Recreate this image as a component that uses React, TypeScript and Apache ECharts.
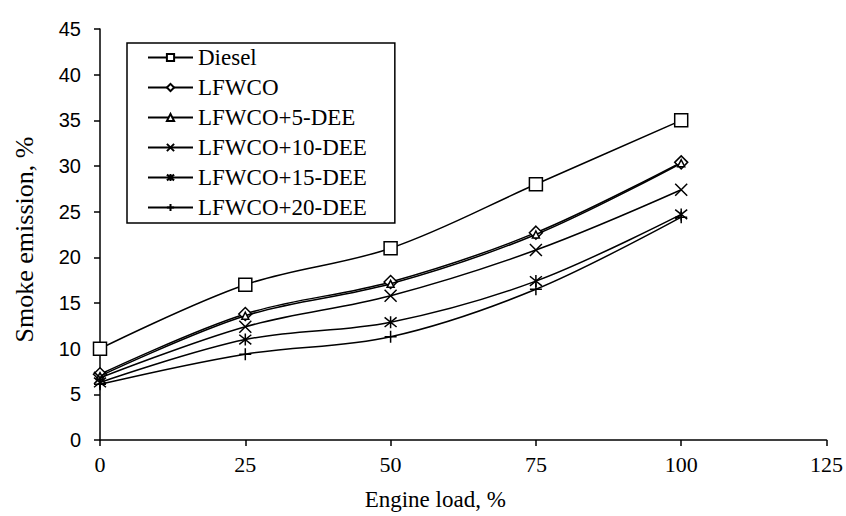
import React, { useEffect, useRef } from "react";
import * as echarts from "echarts";

const loads = [0, 25, 50, 75, 100];
const seriesNames = ["Diesel", "LFWCO", "LFWCO+5-DEE", "LFWCO+10-DEE", "LFWCO+15-DEE", "LFWCO+20-DEE"];
const diesel = [10.0, 17.0, 21.0, 28.0, 35.0];
const lfwco = [7.2, 13.8, 17.3, 22.7, 30.4];
const lfwco5 = [7.0, 13.6, 17.1, 22.5, 30.3];
const lfwco10 = [6.8, 12.4, 15.8, 20.8, 27.4];
const lfwco15 = [6.3, 11.0, 12.9, 17.4, 24.7];
const lfwco20 = [6.1, 9.4, 11.3, 16.5, 24.4];
const allValues = [diesel, lfwco, lfwco5, lfwco10, lfwco15, lfwco20];

const symbols = [
  "rect",
  "diamond",
  "triangle",
  "path://M0,0L10,10M10,0L0,10",
  "path://M1,1L9,9M9,1L1,9M5,0L5,10",
  "path://M0,5L10,5M5,0L5,10",
];
const symbolSizes = [13, 13, 7, 12, 12, 12];

const SERIF = "Liberation Serif";
const SANS = "Liberation Sans";

export default function App() {
  const ref = useRef<HTMLDivElement>(null);
  useEffect(() => {
    if (!ref.current) return;
    const chart = echarts.init(ref.current, undefined, { renderer: "svg" });
    const series = seriesNames.map((name, i) => ({
      name,
      type: "line",
      data: loads.map((x, j) => [x, allValues[i][j]]),
      smooth: 0.35,
      symbol: symbols[i],
      symbolSize: symbolSizes[i],
      showAllSymbol: true,
      lineStyle: { color: "#000", width: 1.5 },
      itemStyle: {
        color: i < 3 ? "#fff" : "#000",
        borderColor: "#000",
        borderWidth: 1.5,
      },
      z: 2 + i,
    }));
    chart.setOption({
      animation: false,
      backgroundColor: "#fff",
      textStyle: { fontFamily: SERIF, color: "#000" },
      grid: { left: 100, right: 18, top: 29, bottom: 70 },
      legend: {
        orient: "vertical",
        left: 127,
        top: 43,
        padding: [3, 28, 4, 20],
        itemWidth: 45,
        itemHeight: 9,
        itemGap: 7,
        borderColor: "#000",
        borderWidth: 1.5,
        borderRadius: 0,
        backgroundColor: "#fff",
        textStyle: { fontFamily: SERIF, fontSize: 23, lineHeight: 23, color: "#000" },
        data: seriesNames,
      },
      xAxis: {
        type: "value",
        min: 0,
        max: 125,
        interval: 25,
        name: "Engine load, %",
        nameLocation: "middle",
        nameGap: 48,
        nameTextStyle: { fontFamily: SERIF, fontSize: 23, color: "#000", padding: [0, 56, 0, 0] },
        axisLine: { lineStyle: { color: "#000", width: 1.5 } },
        axisTick: { show: true, length: 6, lineStyle: { color: "#000", width: 1.5 } },
        axisLabel: { fontFamily: SERIF, fontSize: 22, color: "#000", margin: 13 },
        splitLine: { show: false },
      },
      yAxis: {
        type: "value",
        min: 0,
        max: 45,
        interval: 5,
        name: "Smoke emission, %",
        nameLocation: "middle",
        nameRotate: 90,
        nameGap: 63,
        nameTextStyle: { fontFamily: SERIF, fontSize: 26, color: "#000", padding: [0, 10, 0, 0] },
        axisLine: { show: true, lineStyle: { color: "#000", width: 1.5 } },
        axisTick: { show: true, length: 6, lineStyle: { color: "#000", width: 1.5 } },
        axisLabel: { fontFamily: SANS, fontSize: 20, color: "#000", margin: 19 },
        splitLine: { show: false },
      },
      series,
    });
    return () => chart.dispose();
  }, []);
  return (
    <div
      ref={ref}
      style={{ position: "fixed", left: 0, top: 0, width: 846, height: 516 }}
    />
  );
}
